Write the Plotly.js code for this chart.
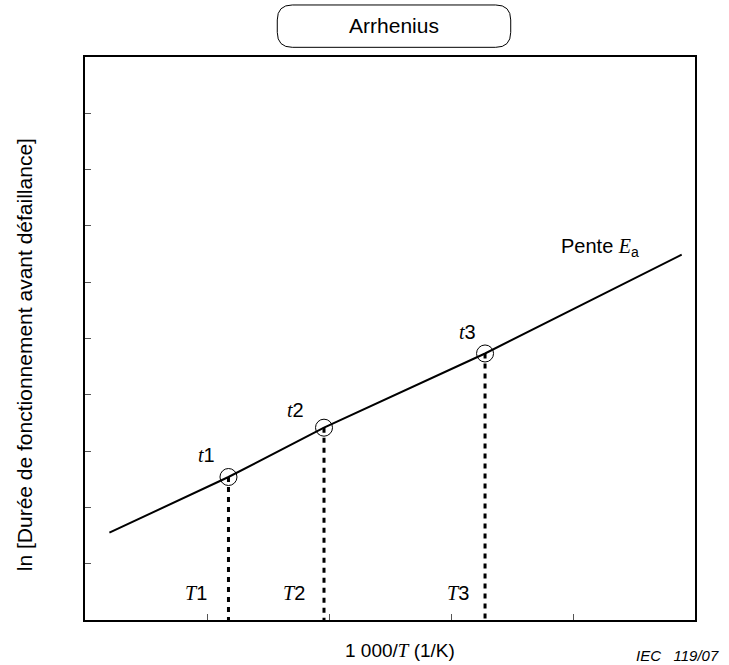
<!DOCTYPE html>
<html>
<head>
<meta charset="utf-8">
<script src="https://cdn.plot.ly/plotly-3.0.1.min.js"></script>
<style>
  html, body { margin: 0; padding: 0; background: #fff; }
  #chart { width: 729px; height: 665px; }
</style>
</head>
<body>
<div id="chart"></div>
<script>
// Arrhenius line: ln(time to failure) versus 1000/T
const lineX = [0.2, 1.176, 1.959, 3.279, 4.891];
const lineY = [1.551, 2.54, 3.416, 4.734, 6.488];

// Test points t1, t2, t3 and their temperatures T1, T2, T3
const pointX = [1.176, 1.959, 3.279];
const pointY = [2.54, 3.416, 4.734];
const pointLabels = ['1', '2', '3'];

const xTicks = [1, 2, 3, 4];
const yTicks = [1, 2, 3, 4, 5, 6, 7, 8, 9];

const SANS = '"Liberation Sans", Arial, Helvetica, sans-serif';
const SERIF = 'Liberation Serif, Times New Roman, serif';
const it = s => `<span style="font-family:${SERIF}"><i>${s}</i></span>`;

// vertical dotted drop lines from each point to the axis
const dropX = [], dropY = [];
pointX.forEach((x, i) => { dropX.push(x, x, null); dropY.push(pointY[i], 0, null); });

const traces = [
  { x: lineX, y: lineY, mode: 'lines', line: { color: '#000', width: 2 }, hoverinfo: 'skip' },
  { x: dropX, y: dropY, mode: 'lines', line: { color: '#000', width: 3, dash: '5px,5px' }, hoverinfo: 'skip' },
  { x: pointX, y: pointY, mode: 'markers',
    marker: { symbol: 'circle-open', size: 17, color: '#000', line: { width: 1, color: '#000' } },
    hoverinfo: 'skip' }
];

const tShift = [[-22, 22], [-29, 18], [-18, 21]];
const TShift = [-32, -30, -27];

const centred = { showarrow: false, xanchor: 'center', yanchor: 'middle' };
const annotations = [];
pointX.forEach((x, i) => {
  annotations.push(Object.assign({}, centred, { x: x, y: pointY[i], xref: 'x', yref: 'y',
    text: it('t') + pointLabels[i], xshift: tShift[i][0], yshift: tShift[i][1],
    font: { family: SANS, size: 20, color: '#000' } }));
  annotations.push(Object.assign({}, centred, { x: x, y: 0.48, xref: 'x', yref: 'y',
    text: it('T') + pointLabels[i], xshift: TShift[i],
    font: { family: SANS, size: 20, color: '#000' } }));
});

annotations.push(
  Object.assign({}, centred, { x: 0.845, y: 0.6625, xref: 'paper', yref: 'paper',
    text: 'Pente ' + it('E') + '<sub>a</sub>', font: { family: SANS, size: 20, color: '#000' } }),
  Object.assign({}, centred, { x: 0.516, y: -0.0533, xref: 'paper', yref: 'paper',
    text: '1\u00A0000/' + it('T') + ' (1/K)', font: { family: SANS, size: 19, color: '#000' } }),
  Object.assign({}, centred, { x: -0.098, y: 0.4707, xref: 'paper', yref: 'paper', textangle: -90,
    text: 'ln [Durée de fonctionnement avant défaillance]', font: { family: SANS, size: 21, color: '#000' } }),
  Object.assign({}, centred, { x: 1.041, y: -0.0639, xref: 'paper', yref: 'paper', xanchor: 'right',
    borderpad: 0, text: '<i>IEC\u00A0\u00A0\u00A0119/07</i>', font: { family: SANS, size: 15, color: '#000' } })
);

// rounded frame around the title
const bx0 = 0.3152, bx1 = 0.6979, by0 = 1.0172, by1 = 1.0924, rx = 0.0246, ry = 0.0266;
const boxPath = `M ${bx0 + rx} ${by1} L ${bx1 - rx} ${by1} Q ${bx1} ${by1} ${bx1} ${by1 - ry} ` +
  `L ${bx1} ${by0 + ry} Q ${bx1} ${by0} ${bx1 - rx} ${by0} L ${bx0 + rx} ${by0} ` +
  `Q ${bx0} ${by0} ${bx0} ${by0 + ry} L ${bx0} ${by1 - ry} Q ${bx0} ${by1} ${bx0 + rx} ${by1} Z`;

const axisCommon = {
  showgrid: false, zeroline: false, showline: true, mirror: true,
  linecolor: '#000', linewidth: 2, ticks: 'inside', ticklen: 6, tickwidth: 1,
  tickcolor: '#555', showticklabels: false, fixedrange: true
};

const layout = {
  width: 729, height: 665,
  margin: { l: 85, r: 34, t: 57, b: 45 },
  paper_bgcolor: '#fff', plot_bgcolor: '#fff',
  showlegend: false,
  font: { family: SANS, color: '#000' },
  title: { text: 'Arrhenius', x: 0.5066, xref: 'paper', xanchor: 'center',
           y: 0.961, yref: 'container', yanchor: 'middle',
           font: { family: SANS, size: 21, color: '#000' } },
  xaxis: Object.assign({}, axisCommon, { range: [0, 5], tickvals: xTicks }),
  yaxis: Object.assign({}, axisCommon, { range: [0, 10], tickvals: yTicks }),
  shapes: [{ type: 'path', xref: 'paper', yref: 'paper', path: boxPath,
             line: { color: '#000', width: 1 } }],
  annotations: annotations
};

Plotly.newPlot('chart', traces, layout, { staticPlot: true, displayModeBar: false });
</script>
</body>
</html>
